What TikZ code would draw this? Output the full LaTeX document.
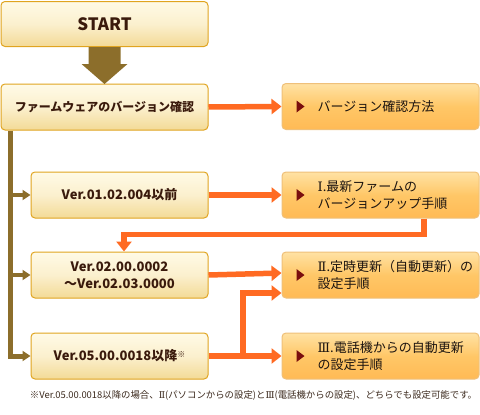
\documentclass[tikz,border=0pt]{standalone}
\usepackage{fontspec}
\setmainfont{Noto Sans CJK JP}
\newfontfamily\romanfont{DejaVu Serif}
\usetikzlibrary{arrows.meta,calc}
\definecolor{lbord}{HTML}{E0A420}
\definecolor{ltop}{HTML}{FFFAE6}
\definecolor{lmid}{HTML}{FBF0CE}
\definecolor{lbot}{HTML}{F3DA96}
\definecolor{ltext}{HTML}{3A1A0C}
\definecolor{rbord}{HTML}{EFC07A}
\definecolor{rtop}{HTML}{FFE2A4}
\definecolor{rmid}{HTML}{FFC767}
\definecolor{rbot}{HTML}{FFBA55}
\definecolor{rtextc}{HTML}{1C1410}
\definecolor{mark}{HTML}{7A0E0E}
\definecolor{orangeline}{HTML}{FF6A22}
\definecolor{brownline}{HTML}{8C6E2B}
\definecolor{notec}{HTML}{3C2A1E}
\begin{document}
\begin{tikzpicture}[x=1pt,y=-1pt,
  lbox/.style={draw=lbord, line width=1pt, rounded corners=4pt,
    top color=ltop, bottom color=lbot, middle color=lmid,
    minimum width=177pt, minimum height=46pt, inner sep=0pt,
    font=\bfseries\fontsize{13}{17}\selectfont, text=ltext, align=center},
  rbox/.style={draw=rbord, line width=1pt, rounded corners=4pt,
    top color=rtop, bottom color=rbot, middle color=rmid,
    minimum width=197pt, minimum height=46pt, inner sep=0pt},
  rtext/.style={anchor=west, align=left, inner sep=0pt,
    font=\fontsize{13}{17}\selectfont, text=rtextc},
  oarr/.style={draw=orangeline, line width=5.5pt,
    -{Triangle[length=10pt,width=15pt]}},
  barr/.style={draw=brownline, line width=4pt,
    -{Triangle[length=8pt,width=10pt]}},
  marker/.style={fill=mark}
]
\useasboundingbox (0,0) rectangle (480,415);

% left column
\node[lbox, minimum width=207pt, minimum height=45pt,
  font=\bfseries\fontsize{17}{20}\selectfont] (start) at (104.5,24) {START};
\node[lbox, minimum width=207pt, font=\bfseries\fontsize{12}{16}\selectfont]
  (fw) at (104.5,107) {ファームウェアのバージョン確認};
\node[lbox] (v01) at (119.5,195) {Ver.01.02.004以前};
\node[lbox] (v02) at (119.5,275) {Ver.02.00.0002\\～Ver.02.03.0000};
\node[lbox] (v05) at (119.5,356) {Ver.05.00.0018以降\raisebox{0.5ex}{\fontsize{8}{8}\selectfont ※}};

% right column
\node[rbox] (method) at (380.5,106.5) {};
\node[rbox] (up1) at (380.5,195) {};
\node[rbox] (set2) at (380.5,275) {};
\node[rbox] (set3) at (380.5,356) {};

\node[rtext] (tmethod) at ([xshift=36pt]method.west) {バージョン確認方法};
\node[rtext] (tup1) at ([xshift=36pt]up1.west) {{\romanfont Ⅰ}.最新ファームの\\バージョンアップ手順};
\node[rtext] (tset2) at ([xshift=36pt]set2.west) {{\romanfont Ⅱ}.定時更新（自動更新）の\\設定手順};
\node[rtext] (tset3) at ([xshift=36pt]set3.west) {{\romanfont Ⅲ}.電話機からの自動更新\\の設定手順};

\foreach \b in {method,up1,set2,set3}{
  \fill[marker] ([xshift=15pt,yshift=6pt]\b.west) -- ++(8,6) -- ++(-8,6) -- cycle;
}

% big arrow
\fill[brownline] ($(start.south)+(-16,0)$) -- ($(start.south)+(16,0)$)
  -- ($(start.south)+(16,17)$) -- ($(start.south)+(23,17)$)
  -- ($(start.south)+(0,37)$) -- ($(start.south)+(-23,17)$)
  -- ($(start.south)+(-16,17)$) -- cycle;

% trunk
\coordinate (trunk) at ([xshift=9.5pt]fw.south west);
\draw[barr, line width=5pt] (trunk) |- (v05.west);
\draw[barr] (trunk |- v01.west) -- (v01.west);
\draw[barr] (trunk |- v02.west) -- (v02.west);

% orange connectors
\draw[oarr] (fw.east) -- (method.west);
\draw[oarr] (v01.east) -- (up1.west);
\draw[oarr] ([xshift=43.5pt]up1.south) |- ([xshift=4.5pt,yshift=17pt]v02.north) -- ([xshift=4.5pt]v02.north);
\draw[oarr] (v02.east) -- ([yshift=2pt]set2.west);
\draw[oarr] (v05.east) -- (set3.west);
\coordinate (junc) at ($(v05.east)!0.47!(set3.west)$);
\draw[oarr] (junc) |- ([yshift=-18pt]set2.west);

% footnote
\node[inner sep=0pt, text=notec, font=\fontsize{9.4}{11}\selectfont] (note) at (253.5,395)
  {※Ver.05.00.0018以降の場合、{\romanfont Ⅱ}(パソコンからの設定)と{\romanfont Ⅲ}(電話機からの設定)、どちらでも設定可能です。};
\end{tikzpicture}
\end{document}
